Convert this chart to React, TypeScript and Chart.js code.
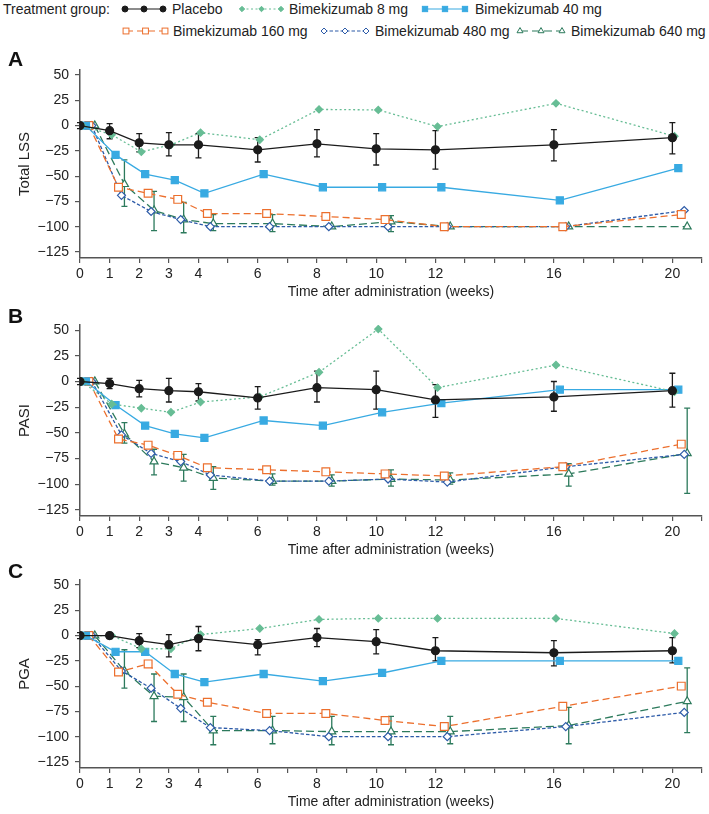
import { useEffect, useRef } from "react";
import { Chart, registerables, type ChartConfiguration, type Plugin } from "chart.js";

Chart.register(...registerables);

const FONT = "'Liberation Sans', Arial, Helvetica, sans-serif";

// x: weeks after administration, y: % change from baseline
const WEEKS = [0, 1, 2, 3, 4, 6, 8, 10, 12, 16, 20];
const X_TICKS = [0, 1, 2, 3, 4, 5, 6, 7, 8, 9, 10, 11, 12, 13, 14, 15, 16, 17, 18, 19, 20, 21];
const X_LABELS = [0, 1, 2, 3, 4, 6, 8, 10, 12, 16, 20];
const Y_TICKS = [-125, -100, -75, -50, -25, 0, 25, 50];

const GROUPS = [
  "Placebo",
  "Bimekizumab 8 mg",
  "Bimekizumab 40 mg",
  "Bimekizumab 160 mg",
  "Bimekizumab 480 mg",
  "Bimekizumab 640 mg",
];
// small horizontal dodge per group (weeks) so the markers don't sit on each other
const DODGE = [0, 0.07, 0.2, 0.3, 0.4, 0.5];

// A: Total LSS
const LSS_PLACEBO = [0, -5, -17, -19, -19, -24, -18, -23, -24, -19, -12];
const LSS_PLACEBO_LO = [-3, -13, -26, -30, -32, -36, -31, -39, -43, -35, -28];
const LSS_PLACEBO_HI = [3, 2, -8, -7, -8, -12, -4, -8, -5, -4, 3];
const LSS_8 = [0, -9, -26, -19, -7, -14, 16, 15.5, -1, 22, -10.5];
const LSS_40 = [0, -29, -48, -54, -67, -48, -61, -61, -61, -74, -42];
const LSS_160 = [0, -61, -67, -73, -87, -87, -90, -93, -100, -100, -88];
const LSS_480 = [0, -69, -85, -93, -100, -100, -100, -100, -100, -100, -84];
const LSS_640 = [0, -58, -84, -93, -97, -97, -100, -95, -100, -100, -100];
const LSS_640_LO = [null, -80, -104, -106, -104, -105, null, -105, null, null, null];
const LSS_640_HI = [null, -34, -65, -76, -88, -88, null, -89, null, null, null];

// B: PASI
const PASI_PLACEBO = [0, -2, -7, -9, -10, -16, -6, -8, -18, -15, -9];
const PASI_PLACEBO_LO = [-3, -7, -15, -20, -19, -27, -20, -27, -35, -29, -25];
const PASI_PLACEBO_HI = [3, 3, 1, 3, -2, -5, 10, 10, -3, 0, 8];
const PASI_8 = [0, -22, -26, -30, -20, -15, 9, 51, -6, 16, -10];
const PASI_40 = [0, -23, -43, -51, -55, -38, -43, -30, -21, -8, -8];
const PASI_160 = [0, -56, -62, -72, -84, -86, -88, -90, -92, -83, -61];
const PASI_480 = [0, -52, -70, -78, -91, -97, -97, -95, -98, -83, -71];
const PASI_640 = [0, -51, -78, -84, -94, -97, -97, -95, -96, -90, -70];
const PASI_640_LO = [null, -60, -91, -97, -105, -101, -102, -102, -100, -102, -109];
const PASI_640_HI = [null, -40, -66, -71, -83, -90, -91, -86, -89, -80, -26];

// C: PGA
const PGA_PLACEBO = [0, 0, -5, -9, -3, -9, -2, -6, -15, -17, -15];
const PGA_PLACEBO_LO = [-3, -3, -12, -21, -15, -19, -11, -18, -25, -30, -27];
const PGA_PLACEBO_HI = [3, 3, 2, 1, 9, -4, 7, 6, -2, -5, -2];
const PGA_8 = [0, 0, -13, -13, 1, 7, 16, 17, 17, 17, 2];
const PGA_40 = [0, -16, -16, -38, -46, -38, -45, -37, -25, -25, -25];
const PGA_160 = [0, -36, -28, -58, -66, -77, -77, -84, -90, -70, -50];
const PGA_480 = [0, -35, -52, -72, -91, -94, -100, -100, -100, -90, -76];
const PGA_640 = [0, -35, -60, -61, -94, -94, -95, -95, -95, -89, -65];
const PGA_640_LO = [null, -52, -85, -85, -108, -107, -108, -108, -107, -107, -96];
const PGA_640_HI = [null, -14, -38, -38, -80, -80, -80, -80, -80, -71, -32];

type Look = { color: string; dash: number[]; point: string; r: number; fill: boolean };

const LOOK: Look[] = [
  { color: "#1b1b1b", dash: [], point: "circle", r: 4, fill: true },
  { color: "#67bd95", dash: [2, 2.5], point: "rectRot", r: 3.6, fill: true },
  { color: "#38aae2", dash: [], point: "rect", r: 5, fill: true },
  { color: "#ec6f2d", dash: [7, 4], point: "rect", r: 5.5, fill: false },
  { color: "#2d5ba8", dash: [3.5, 2], point: "rectRot", r: 4, fill: false },
  { color: "#2c7a5c", dash: [8, 4], point: "triangle", r: 4.6, fill: false },
];

type Err = { lo: (number | null)[]; hi: (number | null)[] } | null;

const errorBars: Plugin = {
  id: "errorBars",
  beforeDatasetsDraw(chart) {
    const { ctx } = chart;
    const ys = chart.scales.y;
    chart.data.datasets.forEach((ds: any, di) => {
      if (!ds.err) return;
      const meta = chart.getDatasetMeta(di);
      ctx.save();
      ctx.strokeStyle = ds.borderColor;
      ctx.lineWidth = 1.3;
      ctx.setLineDash([]);
      meta.data.forEach((pt: any, i: number) => {
        const lo = ds.err.lo[i];
        const hi = ds.err.hi[i];
        if (lo == null || hi == null) return;
        const x = pt.x;
        const y1 = ys.getPixelForValue(lo);
        const y2 = ys.getPixelForValue(hi);
        ctx.beginPath();
        ctx.moveTo(x, y1);
        ctx.lineTo(x, y2);
        ctx.moveTo(x - 3, y1);
        ctx.lineTo(x + 3, y1);
        ctx.moveTo(x - 3, y2);
        ctx.lineTo(x + 3, y2);
        ctx.stroke();
      });
      ctx.restore();
    });
  },
};

const fmt = (v: number) => (v < 0 ? "\u2212" + Math.abs(v) : String(v));

function buildConfig(
  letter: string,
  letterY: number,
  yTitle: string,
  series: number[][],
  errs: Err[],
  padTop: number,
  padBottom: number
): ChartConfiguration<"line"> {
  const letterPlugin: Plugin = {
    id: "panelLetter",
    afterDraw(chart) {
      const { ctx } = chart;
      ctx.save();
      ctx.font = `bold 21px ${FONT}`;
      ctx.fillStyle = "#111";
      ctx.textBaseline = "alphabetic";
      ctx.fillText(letter, 8, letterY);
      ctx.restore();
    },
  };
  return {
    type: "line",
    data: {
      datasets: GROUPS.map((label, g) => {
        const s = LOOK[g];
        return {
          label,
          data: WEEKS.map((w, i) => ({ x: w + DODGE[g], y: series[g][i] })),
          borderColor: s.color,
          borderWidth: 1.3,
          borderDash: s.dash,
          pointStyle: s.point as any,
          pointRadius: s.r,
          pointHoverRadius: s.r,
          pointBackgroundColor: s.fill ? s.color : "#ffffff",
          pointBorderColor: s.color,
          pointBorderWidth: 1.2,
          tension: 0,
          fill: false,
          err: errs[g],
        } as any;
      }),
    },
    options: {
      responsive: false,
      maintainAspectRatio: false,
      animation: false,
      devicePixelRatio: 1,
      layout: { padding: { top: padTop, bottom: padBottom, left: 0, right: 7 } },
      plugins: {
        legend: { display: false },
        tooltip: { enabled: false },
      },
      scales: {
        x: {
          type: "linear",
          min: 0,
          max: 21,
          afterBuildTicks: (s: any) => {
            s.ticks = X_TICKS.map((v) => ({ value: v }));
          },
          afterFit: (s: any) => {
            s.height = 43;
          },
          ticks: {
            autoSkip: false,
            maxRotation: 0,
            padding: 3,
            color: "#222",
            font: { size: 14, family: FONT },
            callback: (v: any) => (X_LABELS.includes(Number(v)) ? String(v) : ""),
          },
          grid: { drawOnChartArea: false, drawTicks: true, tickLength: 5, color: "#555", lineWidth: 1.2 },
          border: { display: true, color: "#555", width: 1.5 },
          title: {
            display: true,
            text: "Time after administration (weeks)",
            color: "#222",
            font: { size: 14, family: FONT },
            padding: { top: 0, bottom: 0 },
          },
        },
        y: {
          type: "linear",
          min: -131,
          max: 55,
          afterBuildTicks: (s: any) => {
            s.ticks = Y_TICKS.map((v) => ({ value: v }));
          },
          afterFit: (s: any) => {
            s.width = 80;
          },
          ticks: {
            padding: 6,
            color: "#222",
            font: { size: 14, family: FONT },
            callback: (v: any) => fmt(Number(v)),
          },
          grid: { drawOnChartArea: false, drawTicks: true, tickLength: 5, color: "#555", lineWidth: 1.2 },
          border: { display: true, color: "#555", width: 1.5 },
          title: {
            display: true,
            text: yTitle,
            color: "#222",
            font: { size: 15, family: FONT },
            padding: { top: 16, bottom: 0 },
          },
        },
      },
    },
    plugins: [errorBars, letterPlugin],
  };
}

function Panel(props: {
  letter: string;
  letterY: number;
  yTitle: string;
  series: number[][];
  errs: Err[];
  top: number;
  height: number;
  padTop: number;
  padBottom: number;
}) {
  const ref = useRef<HTMLCanvasElement>(null);
  useEffect(() => {
    const canvas = ref.current;
    if (!canvas) return;
    const chart = new Chart(
      canvas,
      buildConfig(props.letter, props.letterY, props.yTitle, props.series, props.errs, props.padTop, props.padBottom)
    );
    return () => chart.destroy();
  }, []);
  return (
    <canvas
      ref={ref}
      width={709}
      height={props.height}
      style={{ position: "absolute", left: 0, top: props.top, width: 709, height: props.height }}
    />
  );
}

function Marker({ g, x, y }: { g: number; x: number; y: number }) {
  const s = LOOK[g];
  const fill = s.fill ? s.color : "#fff";
  const k = 0.75;
  if (s.point === "circle") return <circle cx={x} cy={y} r={s.r * k} fill={fill} stroke={s.color} strokeWidth={1} />;
  if (s.point === "rect") {
    const h = s.r * Math.SQRT1_2 * k;
    return <rect x={x - h} y={y - h} width={2 * h} height={2 * h} fill={fill} stroke={s.color} strokeWidth={1} />;
  }
  if (s.point === "rectRot") {
    const h = s.r * k;
    return (
      <polygon
        points={`${x},${y - h} ${x + h},${y} ${x},${y + h} ${x - h},${y}`}
        fill={fill}
        stroke={s.color}
        strokeWidth={1}
      />
    );
  }
  const h = s.r * k;
  return (
    <polygon
      points={`${x},${y - h} ${x + h * 0.866},${y + h / 2} ${x - h * 0.866},${y + h / 2}`}
      fill={fill}
      stroke={s.color}
      strokeWidth={1}
    />
  );
}

// legend placement: [group, swatch left, swatch width, text left, row top]
const LEGEND_SLOTS = [
  [0, 121, 46, 172, 1],
  [1, 238, 47, 289, 1],
  [2, 421, 48, 475, 1],
  [3, 122, 47, 173, 23],
  [4, 320, 50, 375, 23],
  [5, 516, 50, 571, 23],
];

function Legend() {
  const text = { position: "absolute" as const, fontFamily: FONT, fontSize: 14, lineHeight: "16px", color: "#222", whiteSpace: "nowrap" as const };
  return (
    <>
      <div style={{ ...text, left: 3, top: 1 }}>Treatment group:</div>
      {LEGEND_SLOTS.map(([g, sx, sw, tx, top]) => {
        const s = LOOK[g];
        return (
          <div key={g}>
            <svg width={sw} height={14} style={{ position: "absolute", left: sx, top: top + 1 }}>
              <line
                x1={4}
                x2={sw - 4}
                y1={7}
                y2={7}
                stroke={s.color}
                strokeWidth={1.2}
                strokeDasharray={s.dash.length ? s.dash.join(" ") : undefined}
              />
              <Marker g={g} x={4} y={7} />
              <Marker g={g} x={sw / 2} y={7} />
              <Marker g={g} x={sw - 4} y={7} />
            </svg>
            <div style={{ ...text, left: tx, top }}>{GROUPS[g]}</div>
          </div>
        );
      })}
    </>
  );
}

export default function App() {
  useEffect(() => {
    document.body.style.margin = "0";
  }, []);
  return (
    <div style={{ position: "relative", width: 709, height: 814, overflow: "hidden", background: "#fff" }}>
      <Legend />
      <Panel
        letter="A"
        letterY={21}
        yTitle="Total LSS"
        series={[LSS_PLACEBO, LSS_8, LSS_40, LSS_160, LSS_480, LSS_640]}
        errs={[{ lo: LSS_PLACEBO_LO, hi: LSS_PLACEBO_HI }, null, null, null, null, { lo: LSS_640_LO, hi: LSS_640_HI }]}
        top={45}
        height={260}
        padTop={25}
        padBottom={4}
      />
      <Panel
        letter="B"
        letterY={18}
        yTitle="PASI"
        series={[PASI_PLACEBO, PASI_8, PASI_40, PASI_160, PASI_480, PASI_640]}
        errs={[{ lo: PASI_PLACEBO_LO, hi: PASI_PLACEBO_HI }, null, null, null, null, { lo: PASI_640_LO, hi: PASI_640_HI }]}
        top={305}
        height={255}
        padTop={20}
        padBottom={1}
      />
      <Panel
        letter="C"
        letterY={18}
        yTitle="PGA"
        series={[PGA_PLACEBO, PGA_8, PGA_40, PGA_160, PGA_480, PGA_640]}
        errs={[{ lo: PGA_PLACEBO_LO, hi: PGA_PLACEBO_HI }, null, null, null, null, { lo: PGA_640_LO, hi: PGA_640_HI }]}
        top={560}
        height={254}
        padTop={20}
        padBottom={3}
      />
    </div>
  );
}
